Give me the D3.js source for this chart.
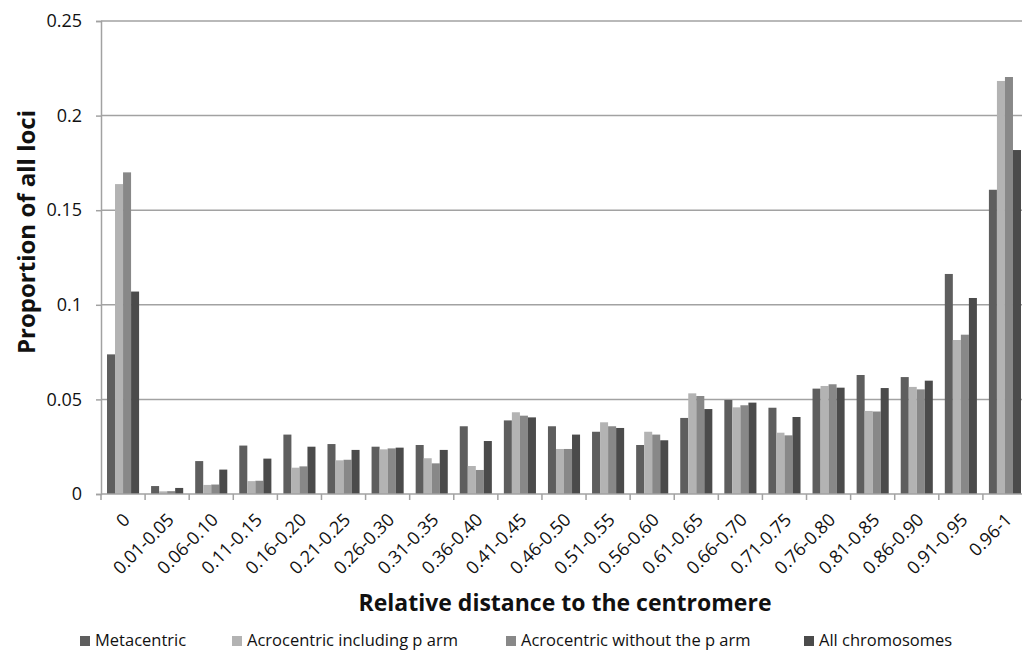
<!DOCTYPE html>
<html>
<head>
<meta charset="utf-8">
<script src="https://cdn.jsdelivr.net/npm/d3@7"></script>
<style>
  body { margin: 0; background: #fff; }
  text { font-family: 'Open Sans', sans-serif; fill: #111; }
</style>
</head>
<body>
<svg id="canvas"></svg>
<script>
let categories = ['0', '0.01-0.05', '0.06-0.10', '0.11-0.15', '0.16-0.20', '0.21-0.25', '0.26-0.30',
  '0.31-0.35', '0.36-0.40', '0.41-0.45', '0.46-0.50', '0.51-0.55', '0.56-0.60', '0.61-0.65',
  '0.66-0.70', '0.71-0.75', '0.76-0.80', '0.81-0.85', '0.86-0.90', '0.91-0.95', '0.96-1'];

let seriesNames = ['Metacentric', 'Acrocentric including p arm', 'Acrocentric without the p arm', 'All chromosomes'];

let metacentric = [0.0738, 0.0042, 0.0174, 0.0256, 0.0314, 0.0264, 0.025, 0.0259, 0.0358, 0.0389, 0.0358,
  0.0329, 0.0259, 0.0402, 0.0497, 0.0456, 0.0557, 0.0629, 0.0618, 0.1163, 0.1608];
let acroWithP = [0.1638, 0.0014, 0.0048, 0.0068, 0.0139, 0.0178, 0.0236, 0.0189, 0.0148, 0.0432, 0.0238,
  0.0379, 0.0329, 0.0532, 0.0458, 0.0324, 0.0571, 0.0439, 0.0566, 0.0814, 0.2183];
let acroWithoutP = [0.170, 0.0015, 0.005, 0.007, 0.0146, 0.0181, 0.0241, 0.0162, 0.0127, 0.0414, 0.0238,
  0.0358, 0.0314, 0.0518, 0.0469, 0.031, 0.058, 0.0436, 0.0553, 0.0842, 0.2204];
let allChromosomes = [0.107, 0.0032, 0.0129, 0.0187, 0.025, 0.0233, 0.0245, 0.0233, 0.028, 0.0405, 0.0314,
  0.0349, 0.0284, 0.0449, 0.0483, 0.0407, 0.0562, 0.056, 0.0599, 0.1036, 0.1818];

let yTicks = [0, 0.05, 0.1, 0.15, 0.2, 0.25];
let colors = ['#5e5e5e', '#b3b3b3', '#888888', '#4b4b4b'];

let width = 1022;
let height = 650;

let canvas = d3.select('#canvas');
canvas.attr('width', width);
canvas.attr('height', height);

let seriesValues = [metacentric, acroWithP, acroWithoutP, allChromosomes];

// the plot runs a bit past the right edge, like in the original
let xScale = d3.scaleBand().domain(categories).range([101, 1027]);
let innerScale = d3.scaleBand().domain(seriesNames).range([6, xScale.bandwidth() - 6]);
let yScale = d3.scaleLinear().domain([0, 0.25]).range([494, 21]);

let gridColor = '#a2a2a2';

// gridlines
canvas.append('g')
  .selectAll('line')
  .data(yTicks.slice(1))
  .enter()
  .append('line')
  .attr('x1', xScale.range()[0])
  .attr('x2', width)
  .attr('y1', d => yScale(d))
  .attr('y2', d => yScale(d))
  .attr('stroke', gridColor)
  .attr('stroke-width', 1.5);

// bars
let groups = canvas.append('g')
  .selectAll('g')
  .data(categories)
  .enter()
  .append('g')
  .attr('transform', d => `translate(${xScale(d)}, 0)`);

groups.selectAll('rect')
  .data((d, i) => seriesNames.map((s, k) => ({ s: s, k: k, v: seriesValues[k][i] })))
  .enter()
  .append('rect')
  .attr('x', d => innerScale(d.s))
  .attr('width', innerScale.bandwidth())
  .attr('y', d => yScale(d.v))
  .attr('height', d => yScale(0) - yScale(d.v))
  .attr('fill', d => colors[d.k]);

// Y axis
let yAxis = d3.axisLeft(yScale).tickValues(yTicks).tickSize(5).tickPadding(14).tickFormat(d => d3.format('')(d));
let yG = canvas.append('g')
  .attr('id', 'y-axis')
  .attr('transform', `translate(${xScale.range()[0]}, 0)`)
  .call(yAxis);
yG.select('.domain').attr('stroke', gridColor).attr('stroke-width', 1.5);
yG.selectAll('.tick line').attr('stroke', gridColor).attr('stroke-width', 1.5);
yG.selectAll('.tick text').style('font-size', '18px').attr('fill', '#111');

// X axis line and boundary ticks
let xG = canvas.append('g').attr('id', 'x-axis');
xG.append('line')
  .attr('x1', xScale.range()[0])
  .attr('x2', width)
  .attr('y1', yScale(0))
  .attr('y2', yScale(0))
  .attr('stroke', gridColor)
  .attr('stroke-width', 1.5);
xG.selectAll('.bound')
  .data(categories)
  .enter()
  .append('line')
  .attr('class', 'bound')
  .attr('x1', d => xScale(d))
  .attr('x2', d => xScale(d))
  .attr('y1', yScale(0))
  .attr('y2', yScale(0) + 6)
  .attr('stroke', gridColor)
  .attr('stroke-width', 1.5);

xG.selectAll('.lab')
  .data(categories)
  .enter()
  .append('text')
  .attr('class', 'lab')
  .attr('transform', d => `translate(${xScale(d) + xScale.bandwidth() / 2 + 8}, 521) rotate(-45)`)
  .attr('text-anchor', 'end')
  .style('font-size', '18px')
  .text(d => d);

// axis titles
canvas.append('text')
  .attr('transform', `translate(35, 232) rotate(-90)`)
  .attr('text-anchor', 'middle')
  .style('font-size', '24px')
  .style('font-weight', 'bold')
  .text('Proportion of all loci');

canvas.append('text')
  .attr('x', 565)
  .attr('y', 611)
  .attr('text-anchor', 'middle')
  .style('font-size', '23px')
  .style('font-weight', 'bold')
  .text('Relative distance to the centromere');

// legend
let legendX = [80, 232, 506, 804];
let legend = canvas.append('g')
  .selectAll('g')
  .data(seriesNames)
  .enter()
  .append('g')
  .attr('transform', (d, i) => `translate(${legendX[i]}, 646)`);

legend.append('rect')
  .attr('x', 0)
  .attr('y', -10)
  .attr('width', 10)
  .attr('height', 10)
  .attr('fill', (d, i) => colors[i]);

legend.append('text')
  .attr('x', 15)
  .attr('y', 0)
  .style('font-size', '16.5px')
  .text(d => d);
</script>
</body>
</html>
